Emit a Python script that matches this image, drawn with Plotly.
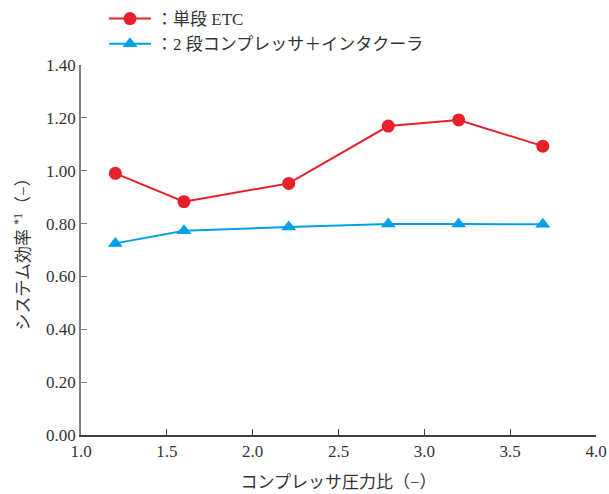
import plotly.graph_objects as go

# Compressor pressure ratio and system efficiency for each configuration
pressure_ratio = [1.2, 1.6, 2.21, 2.79, 3.2, 3.69]
eff_single_etc = [0.990, 0.883, 0.952, 1.169, 1.192, 1.093]
eff_two_stage = [0.725, 0.773, 0.787, 0.798, 0.798, 0.797]

name_single = "：単段 ETC"
name_two = "：2 段コンプレッサ＋インタクーラ"

x_ticks = [1.0, 1.5, 2.0, 2.5, 3.0, 3.5, 4.0]
y_ticks = [0.0, 0.2, 0.4, 0.6, 0.8, 1.0, 1.2, 1.4]

FONT = "'Liberation Serif', 'Noto Sans CJK JP', serif"
RED = "#e8202a"
BLUE = "#00a0e9"

fig = go.Figure()
fig.add_trace(go.Scatter(
    x=pressure_ratio, y=eff_single_etc, name=name_single,
    mode="lines+markers",
    line=dict(color=RED, width=2),
    marker=dict(symbol="circle", size=13, color=RED),
))
fig.add_trace(go.Scatter(
    x=pressure_ratio, y=eff_two_stage, name=name_two,
    mode="lines+markers",
    line=dict(color=BLUE, width=2),
    marker=dict(symbol="triangle-up", size=13, color=BLUE),
))

fig.update_layout(
    width=609, height=494,
    margin=dict(l=81, r=13, t=65, b=59, autoexpand=False),
    paper_bgcolor="white", plot_bgcolor="white",
    font=dict(family=FONT, size=17, color="#333333"),
    showlegend=True,
    legend=dict(
        x=(104 - 81) / 515, xanchor="left",
        y=1 + (65 - 1) / 370, yanchor="top",
        bgcolor="rgba(0,0,0,0)",
        font=dict(size=17, family=FONT, color="#333333"),
        tracegroupgap=0, itemwidth=42,
    ),
)
fig.update_xaxes(
    range=[1.0, 4.0], tickvals=x_ticks,
    ticktext=[f"{v:.1f}" for v in x_ticks],
    showgrid=False, zeroline=False,
    showline=True, linecolor="#404040", linewidth=1.5,
    ticks="inside", ticklen=6, tickcolor="#404040",
    title=dict(text="コンプレッサ圧力比（−）", standoff=16,
               font=dict(size=17, family=FONT)),
)
fig.update_yaxes(
    range=[0.0, 1.4], tickvals=y_ticks,
    ticktext=[f"{v:.2f}" for v in y_ticks],
    showgrid=False, zeroline=False,
    showline=True, linecolor="#808080", linewidth=1.5,
    ticks="inside", ticklen=6, tickcolor="#808080",
    title=dict(text="システム効率 <sup>*1</sup>（−）", standoff=12,
               font=dict(size=17, family=FONT)),
)

fig.write_html("out.html")
